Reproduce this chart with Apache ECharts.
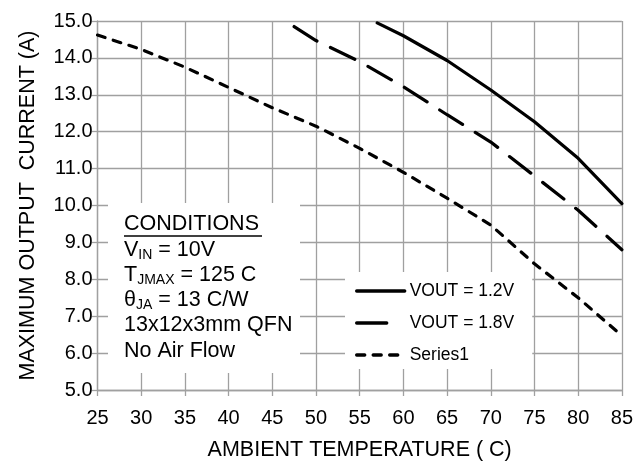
<!DOCTYPE html>
<html>
<head>
<meta charset="utf-8">
<script src="https://cdn.jsdelivr.net/npm/echarts@6/dist/echarts.min.js"></script>
<style>
  html, body { margin: 0; padding: 0; background: #fff; }
  #chart { width: 636px; height: 466px; }
</style>
</head>
<body>
<div id="chart"></div>
<script>
// values
const tempV12 = [57, 60, 65, 70, 75, 80, 85];
const currV12 = [14.95, 14.6, 13.93, 13.13, 12.27, 11.28, 10.05];
const tempV18 = [47.5, 50, 55, 60, 65, 70, 75, 80, 85];
const currV18 = [14.85, 14.47, 13.9, 13.22, 12.46, 11.72, 10.8, 9.87, 8.8];
const tempS1 = [25, 30, 35, 40, 45, 50, 55, 60, 65, 70, 75, 80, 85];
const currS1 = [14.62, 14.23, 13.75, 13.2, 12.65, 12.15, 11.55, 10.9, 10.2, 9.47, 8.42, 7.5, 6.47];
const seriesNames = ["VOUT = 1.2V", "VOUT = 1.8V", "Series1"];

const FONT = "'Liberation Sans', Arial, sans-serif";
const GRID_COLOR = "#a0a0a0";

function pairs(xs, ys) {
    return xs.map((x, i) => [x, ys[i]]);
}

let chart = echarts.init(document.getElementById("chart"));

// white box behind the conditions note (hides the grid like in the original)
let graphics = [{
    type: "rect",
    shape: { x: 108, y: 203, width: 192, height: 170 },
    style: { fill: "#fff" },
    z: 10
}];

let condLines = [
    "{t|CONDITIONS}",
    "{t|V}{s|IN}{t| = 10V}",
    "{t|T}{s|JMAX}{t| = 125 C}",
    "{t|θ}{s|JA}{t| = 13 C/W}",
    "{t|13x12x3mm QFN}",
    "{t|No Air Flow}"
];
let condY = [226, 251.7, 276.7, 301.7, 327, 353];
condLines.forEach((txt, i) => {
    graphics.push({
        type: "text",
        left: 124,
        top: condY[i] - 13,
        z: 11,
        style: {
            text: txt,
            rich: {
                t: { fontSize: 21.5, fontFamily: FONT, fill: "#000", height: 26 },
                s: { fontSize: 14, fontFamily: FONT, fill: "#000", height: 26, padding: [10, 0, 0, 0] }
            }
        }
    });
});
graphics.push({
    type: "line",
    z: 11,
    shape: { x1: 124, y1: 236, x2: 262, y2: 236 },
    style: { stroke: "#000", lineWidth: 1.5 }
});
// title sits almost entirely above the picture, only descenders show
graphics.push({
    type: "text",
    left: 155,
    top: -36,
    style: {
        text: "Temperature Derating",
        fontSize: 36,
        fontWeight: "bold",
        fontFamily: FONT,
        fill: "#000"
    }
});

let option = {
    backgroundColor: "#fff",
    animation: false,
    grid: {
        left: 97.5,
        right: 13.5,
        top: 21,
        bottom: 73,
        containLabel: false
    },
    legend: {
        orient: "vertical",
        left: 345,
        top: 272,
        padding: [10, 18, 5, 10],
        backgroundColor: "#fff",
        itemWidth: 48,
        itemHeight: 20,
        itemGap: 14,
        data: [
            { name: seriesNames[0] },
            { name: seriesNames[1], lineStyle: { type: [30, 30] } },
            { name: seriesNames[2] }
        ],
        itemStyle: { opacity: 0 },
        lineStyle: { width: 3.4 },
        textStyle: { fontSize: 17.5, fontFamily: FONT, color: "#000" }
    },
    xAxis: {
        type: "value",
        min: 25,
        max: 85,
        interval: 5,
        name: "AMBIENT TEMPERATURE ( C)",
        nameLocation: "middle",
        nameGap: 49,
        nameTextStyle: { fontSize: 21.5, fontFamily: FONT, color: "#000" },
        axisLine: { show: true, lineStyle: { color: GRID_COLOR, width: 1.3 } },
        axisTick: { show: true, length: 6, lineStyle: { color: GRID_COLOR, width: 1.3 } },
        axisLabel: { fontSize: 20, fontFamily: FONT, color: "#000", margin: 18 },
        splitLine: { show: true, lineStyle: { color: GRID_COLOR, width: 1.3 } }
    },
    yAxis: {
        type: "value",
        min: 5,
        max: 15,
        interval: 1,
        name: "MAXIMUM OUTPUT  CURRENT (A)",
        nameLocation: "middle",
        nameGap: 58,
        nameTextStyle: { fontSize: 21.5, fontFamily: FONT, color: "#000" },
        axisLine: { show: true, lineStyle: { color: GRID_COLOR, width: 1.3 } },
        axisTick: { show: true, length: 6, lineStyle: { color: GRID_COLOR, width: 1.3 } },
        axisLabel: {
            fontSize: 20,
            fontFamily: FONT,
            color: "#000",
            margin: 5,
            formatter: function (v) {
                return v.toFixed(1);
            }
        },
        splitLine: { show: true, lineStyle: { color: GRID_COLOR, width: 1.3 } }
    },
    graphic: graphics,
    series: [
        {
            name: seriesNames[0],
            type: "line",
            data: pairs(tempV12, currV12),
            symbol: "none",
            color: "#000",
            lineStyle: { color: "#000", width: 3.2, cap: "round" }
        },
        {
            name: seriesNames[1],
            type: "line",
            data: pairs(tempV18, currV18),
            symbol: "none",
            color: "#000",
            lineStyle: { color: "#000", width: 3.2, type: [27, 15], cap: "round" }
        },
        {
            name: seriesNames[2],
            type: "line",
            data: pairs(tempS1, currS1),
            symbol: "none",
            color: "#000",
            lineStyle: { color: "#000", width: 3.2, type: [8, 8.5], cap: "round" }
        }
    ]
};
chart.setOption(option);
</script>
</body>
</html>
